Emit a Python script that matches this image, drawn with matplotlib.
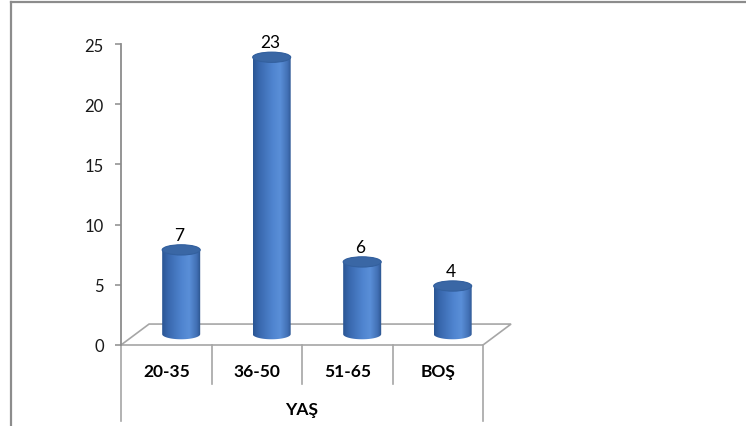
import matplotlib
matplotlib.use("Agg")
import matplotlib.pyplot as plt
from matplotlib.colors import LinearSegmentedColormap
from matplotlib.patches import Ellipse, Polygon
import numpy as np

plt.rcParams['font.family'] = ['Lato', 'DejaVu Sans']

categories = ['20-35', '36-50', '51-65', 'BOŞ']
values = [7, 23, 6, 4]
axis_title = 'YAŞ'
yticks = [0, 5, 10, 15, 20, 25]

W, H = 746, 427
fig = plt.figure(figsize=(W / 100, H / 100), dpi=100)

# frame lines of the chart area (left and top only, like the source)
fig.add_artist(plt.Line2D([11 / W, 11 / W], [0, 1 - 3 / H], color='#8c8c8c', lw=1.6))
fig.add_artist(plt.Line2D([11 / W, 1], [1 - 3 / H, 1 - 3 / H], color='#8c8c8c', lw=1.6))

ax = fig.add_axes([121 / W, (H - 346) / H, 362 / W, 301 / H])
ax.set_xlim(-0.5, len(categories) - 0.5)
ax.set_ylim(0, 25)

grey = '#a6a6a6'
for s in ['top', 'right', 'bottom']:
    ax.spines[s].set_visible(False)
ax.spines['left'].set_color('#8c8c8c')
ax.spines['left'].set_linewidth(1.3)
ax.set_yticks(yticks)
ax.set_xticks([])
ax.tick_params(axis='y', length=4.5, width=1.1, color='#8c8c8c', pad=8,
               labelsize=12, labelcolor='#1a1a1a')

# 3D floor
dx, dy = 0.31, 1.74
x0, x1 = -0.5, len(categories) - 0.5
floor = Polygon([[x0, 0], [x1, 0], [x1 + dx, dy], [x0 + dx, dy]], closed=True,
                facecolor='white', edgecolor=grey, lw=1.2, clip_on=False, zorder=1)
ax.add_patch(floor)

# category table below the floor
for i in range(len(categories) + 1):
    xe = i - 0.5
    bottom = -6.3 if i in (0, len(categories)) else -3.2
    ax.plot([xe, xe], [0, bottom], color=grey, lw=1.2, clip_on=False, zorder=1)
for i, c in enumerate(categories):
    ax.text(i, -2.15, c, ha='center', va='center', fontsize=12.5,
            fontweight='bold', color='#000000')
ax.text((len(categories) - 1) / 2, -5.3, axis_title, ha='center', va='center',
        fontsize=12.5, fontweight='bold', color='#000000')

# cylinders
body_cmap = LinearSegmentedColormap.from_list('cyl', [
    (0.0, '#2a5593'), (0.15, '#3867ad'), (0.5, '#4f84cf'),
    (0.7, '#5a8fd8'), (0.9, '#416fb3'), (1.0, '#2a528b')])
grad = np.linspace(0, 1, 200).reshape(1, -1)
shift, base = 0.165, 0.9
bw, eh = 0.42, 0.85
t1 = np.linspace(np.pi, 2 * np.pi, 60)
t2 = np.linspace(0, np.pi, 60)
for i, v in enumerate(values):
    xc = i + shift
    top = base + v
    pts = np.vstack([
        np.column_stack([xc + bw / 2 * np.cos(t1), base + eh / 2 * np.sin(t1)]),
        np.column_stack([xc + bw / 2 * np.cos(t2), top + eh / 2 * np.sin(t2)]),
    ])
    sil = Polygon(pts, closed=True, facecolor='none', edgecolor='none', zorder=2)
    ax.add_patch(sil)
    im = ax.imshow(grad, cmap=body_cmap, aspect='auto', zorder=2,
                   extent=[xc - bw / 2, xc + bw / 2, base - eh, top + eh],
                   interpolation='bilinear')
    im.set_clip_path(sil)
    cap = Ellipse((xc, top), bw, eh, facecolor='#3a67a5', edgecolor='#33609e',
                  lw=0.8, zorder=3)
    ax.add_patch(cap)
    ax.text(xc - 0.02, top + 1.25, str(v), ha='center', va='center',
            fontsize=12.5, color='#000000', clip_on=False)

ax.set_xlim(-0.5, len(categories) - 0.5)
ax.set_ylim(0, 25)

fig.savefig('out.png', dpi=100)
